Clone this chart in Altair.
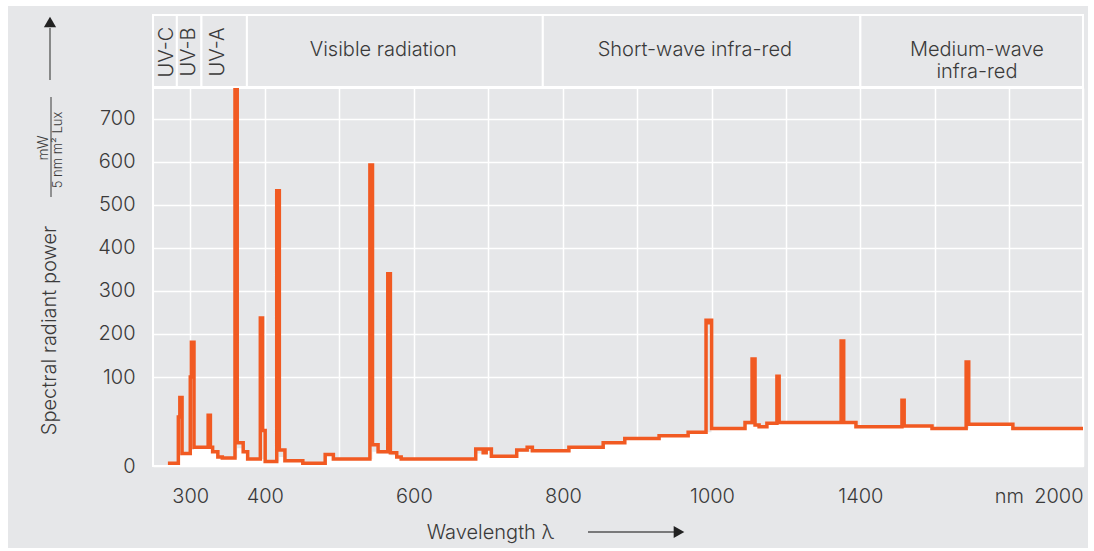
import altair as alt
import pandas as pd

# ---- spectrum (step curve) ----
step_nm = [270, 284, 286, 289, 300, 301.5, 305, 324, 327, 330, 337, 343, 360, 363, 371, 377,
           394, 397, 400.5, 416, 419.5, 427, 451, 481, 492, 541, 544.5, 552, 565, 568.5, 577, 583,
           683, 693, 697, 704, 738, 752, 759, 808, 854, 883, 929, 968, 992, 994.5, 996.5, 999.5,
           1089, 1108, 1116, 1127, 1148, 1175, 1181, 1348, 1355, 1388, 1512, 1518, 1593,
           1685, 1692, 1811, 2000]
step_val = [3, 55, 77, 14, 100, 181, 21, 57, 21, 16, 10, 9, 770, 26, 16, 8,
            237, 40, 5, 533, 18, 6, 3, 13, 8, 593, 24, 16, 340, 15, 10, 8,
            19, 15, 19, 11, 18, 21, 17, 21, 26, 31, 34, 38, 232, 226, 232, 42,
            49, 142, 46, 44, 48, 102, 49, 184, 49, 44, 74, 45, 42,
            135, 47, 42, 42]
# continuum under the lines (white fill)
cont_val = [3, 8, 12, 14, 16, 18, 20, 20, 20, 16, 10, 9, 9, 20, 14, 8,
            8, 8, 5, 5, 10, 6, 3, 12, 8, 8, 16, 14, 14, 12, 10, 8,
            14, 14, 14, 11, 16, 16, 17, 21, 26, 31, 34, 38, 38, 38, 38, 42,
            46, 46, 46, 44, 48, 48, 49, 49, 49, 44, 44, 44, 42,
            42, 47, 42, 42]

# ---- header bands ----
band_names = ["UV-C", "UV-B", "UV-A", "Visible radiation", "Short-wave infra-red",
              "Medium-wave\ninfra-red"]
band_start = [250, 282, 315, 376, 773, 1400]
band_end = [282, 315, 376, 773, 1400, 2000]
band_label_nm = [269, 298, 337, 559, 977, 1714]
band_vertical = [True, True, True, False, False, False]

# ---- axes ----
y_ticks = [0, 100, 200, 300, 400, 500, 600, 700]
x_grid = [300, 400, 500, 600, 700, 800, 900, 1000, 1200, 1400, 1600, 1800, 2000]
x_unlabelled = [500, 700, 900, 1200, 1600]
x_unit_at = 1800

spec = pd.DataFrame({"nm": step_nm, "val": step_val, "cont": cont_val})
bands = pd.DataFrame({"name": band_names, "start": band_start, "end": band_end,
                      "lab": band_label_nm, "vert": band_vertical})
one = pd.DataFrame({"k": [0]})

W, H = 930, 378
BG = "#e6e7e9"
TXT = "#3a3a3a"
ORANGE = "#f15a22"
FONT = "Inter"
FW = 300

xscale = alt.Scale(domain=[250, 1000, 2000], range=[0, 559, W], nice=False, zero=False)
yscale = alt.Scale(domain=[0, 100, 772], range=[H, 289, 0], nice=False, zero=False)

hidden = ",".join(str(v) for v in x_unlabelled)
xaxis = alt.Axis(
    values=x_grid, format="d",
    labelExpr=f"datum.value == {x_unit_at} ? 'nm' : (indexof([{hidden}], datum.value) >= 0 ? '' : datum.label)",
    title="Wavelength λ", titleX=337, titleY=66, titleAlign="center", titleBaseline="middle",
    titleFontSize=20, titleFontWeight=FW, titleColor=TXT, titleFont=FONT,
    labelFontSize=20, labelFontWeight=FW, labelColor=TXT, labelFont=FONT, labelPadding=20,
    labelFlush=True, labelOverlap=False, ticks=False, domain=False,
    grid=True, gridColor="white", gridWidth=1.5, gridOpacity=1,
)
yaxis = alt.Axis(
    values=y_ticks, format="d",
    title="Spectral radiant power", titleX=-104, titleY=242, titleAngle=270,
    titleAlign="center", titleBaseline="middle",
    titleFontSize=20, titleFontWeight=FW, titleColor=TXT, titleFont=FONT,
    labelFontSize=20, labelFontWeight=FW, labelColor=TXT, labelFont=FONT, labelPadding=18,
    labelOverlap=False, ticks=False, domain=False,
    grid=True, gridColor="white", gridWidth=1.5, gridOpacity=1,
)

X = lambda f: alt.X(f"{f}:Q", scale=xscale, axis=xaxis)

area = alt.Chart(spec).mark_area(interpolate="step-after", color="white", opacity=1).encode(
    x=X("nm"), y=alt.Y("cont:Q", scale=yscale, axis=yaxis)
)
line = alt.Chart(spec).mark_line(interpolate="step-after", color=ORANGE, strokeWidth=3.5,
                                 strokeJoin="miter").encode(
    x=X("nm"), y=alt.Y("val:Q", scale=yscale, axis=yaxis)
)

head_rect = alt.Chart(bands).mark_rect(fill=BG, stroke="white", strokeWidth=2).encode(
    x=X("start"), x2="end:Q", y=alt.value(-73), y2=alt.value(-1)
)
head_txt_h = alt.Chart(bands).transform_filter("!datum.vert").mark_text(
    font=FONT, fontSize=20, fontWeight=FW, color=TXT, align="center", baseline="middle",
    lineBreak="\n", lineHeight=22
).encode(x=X("lab"), y=alt.value(-38), text="name:N")
head_txt_v = alt.Chart(bands).transform_filter("datum.vert").mark_text(
    font=FONT, fontSize=20, fontWeight=FW, color=TXT, align="center", baseline="middle",
    angle=270
).encode(x=X("lab"), y=alt.value(-36), text="name:N")

# unit fraction and arrows
unit_top = alt.Chart(one).mark_text(text="mW", font=FONT, fontSize=14, fontWeight=FW,
                                    color=TXT, angle=270, align="center",
                                    baseline="middle").encode(
    x=alt.value(-109), y=alt.value(60))
unit_bar = alt.Chart(one).mark_rule(color=TXT, strokeWidth=1).encode(
    x=alt.value(-102), y=alt.value(9), y2=alt.value(109))
unit_bot = alt.Chart(one).mark_text(text="5 nm m² Lux", font=FONT, fontSize=13,
                                    fontWeight=FW, color=TXT, angle=270, align="center",
                                    baseline="middle").encode(
    x=alt.value(-95), y=alt.value(62))
yarrow = alt.Chart(one).mark_rule(color="#555555", strokeWidth=1.3).encode(
    x=alt.value(-103), y=alt.value(-8), y2=alt.value(-60))
yhead = alt.Chart(one).mark_point(shape="triangle-up", filled=True, size=150, color="#222222",
                                  opacity=1).encode(x=alt.value(-103), y=alt.value(-66))
xarrow = alt.Chart(one).mark_rule(color="#555555", strokeWidth=1.3).encode(
    x=alt.value(435), x2=alt.value(521), y=alt.value(444))
xhead = alt.Chart(one).mark_point(shape="triangle-right", filled=True, size=150,
                                  color="#222222", opacity=1).encode(
    x=alt.value(526), y=alt.value(444))

frame = alt.Chart(one).mark_rect(fill="white", fillOpacity=0, stroke="white",
                                 strokeWidth=12).encode(
    x=alt.value(-151), x2=alt.value(941), y=alt.value(-88), y2=alt.value(466))

chart = alt.layer(
    area, line, head_rect, head_txt_h, head_txt_v,
    unit_top, unit_bar, unit_bot, yarrow, yhead, xarrow, xhead, frame
).properties(
    width=W, height=H,
    padding={"left": 153, "top": 88, "right": 11, "bottom": 85},
    autosize=alt.AutoSizeParams(type="none"),
    background=BG,
).configure_view(
    fill=BG, stroke="white", strokeWidth=2
).configure_text(font=FONT)

chart.save("out.html", embed_options={"renderer": "svg", "actions": False})
